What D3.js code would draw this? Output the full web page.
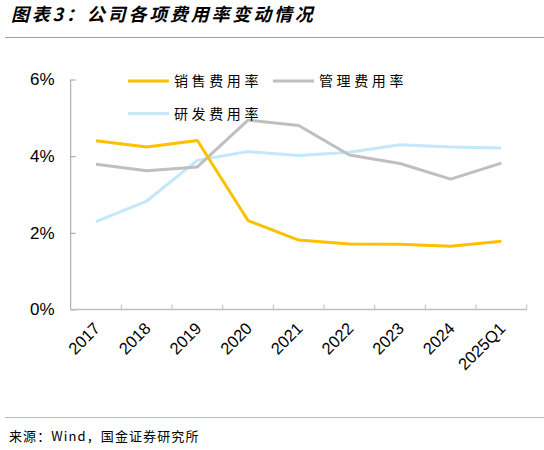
<!DOCTYPE html>
<html>
<head>
<meta charset="utf-8">
<script src="https://cdn.jsdelivr.net/npm/d3@7"></script>
<style>
  body { margin: 0; background: #fff; }
  svg { display: block; }
</style>
</head>
<body>
<svg width="544" height="450"></svg>
<script>
const years = ["2017", "2018", "2019", "2020", "2021", "2022", "2023", "2024", "2025Q1"];
const sales = [4.40, 4.24, 4.41, 2.32, 1.81, 1.71, 1.70, 1.65, 1.78];
const admin = [3.79, 3.62, 3.72, 4.94, 4.80, 4.03, 3.81, 3.40, 3.82];
const rnd = [2.29, 2.83, 3.89, 4.12, 4.02, 4.10, 4.30, 4.24, 4.21];
const yTicks = [0, 2, 4, 6];

const series = [
    { name: "销售费用率", values: sales, color: "#FFC000" },
    { name: "管理费用率", values: admin, color: "#BFBFBF" },
    { name: "研发费用率", values: rnd, color: "#C5E7FA" }
];

const cjk = "'Noto Sans CJK SC', sans-serif";
const svg = d3.select("svg");

// title + rules
svg.append("text")
    .attr("x", 11).attr("y", 21)
    .attr("font-family", cjk)
    .attr("font-size", "18px")
    .attr("font-weight", "bold")
    .attr("font-style", "italic")
    .attr("letter-spacing", "2.8px")
    .text("图表3：公司各项费用率变动情况");

svg.append("line")
    .attr("x1", 5).attr("x2", 544).attr("y1", 37.5).attr("y2", 37.5)
    .attr("stroke", "#8EA3B6").attr("stroke-width", 1.2);

svg.append("line")
    .attr("x1", 5).attr("x2", 544).attr("y1", 417.5).attr("y2", 417.5)
    .attr("stroke", "#A9C0D2").attr("stroke-width", 1.2);

svg.append("text")
    .attr("x", 9).attr("y", 441)
    .attr("font-family", cjk)
    .attr("font-size", "13px")
    .attr("letter-spacing", "1.1px")
    .text("来源：Wind，国金证券研究所");

// plot area
const plotL = 70.7, plotR = 526.7, plotT = 79.5, plotB = 309.5;

const x = d3.scaleBand().domain(years).range([plotL, plotR]);
const y = d3.scaleLinear().domain([0, 6]).range([plotB, plotT]);

// y axis
const yAxis = svg.append("g")
    .attr("transform", "translate(" + plotL + ",0)")
    .call(d3.axisLeft(y).tickValues(yTicks).tickSize(-5).tickPadding(16)
        .tickFormat(d => d + "%"));
yAxis.select(".domain").attr("stroke", "#A0A0A0").attr("d", "M0," + plotT + "V" + plotB);
yAxis.selectAll(".tick line").attr("stroke", "#A0A0A0");
yAxis.selectAll(".tick text")
    .attr("font-family", "Arial, 'Liberation Sans', sans-serif")
    .attr("font-size", "17px")
    .attr("fill", "#000");

// x axis: boundary ticks at band edges
const xAxis = svg.append("g");
xAxis.append("line")
    .attr("x1", plotL).attr("x2", plotR).attr("y1", plotB).attr("y2", plotB)
    .attr("stroke", "#BFBFBF").attr("stroke-width", 1.5);
const edges = years.map(d => x(d)).concat([plotR]);
xAxis.selectAll(".edge")
    .data(edges.slice(1))
    .enter().append("line")
    .attr("x1", d => d).attr("x2", d => d)
    .attr("y1", plotB).attr("y2", plotB - 5)
    .attr("stroke", "#BFBFBF");

xAxis.selectAll(".xl")
    .data(years)
    .enter().append("text")
    .attr("transform", d => "translate(" + (x(d) + x.bandwidth() / 2 + 1) + "," + (plotB + 16) + ") rotate(-45)")
    .attr("text-anchor", "end")
    .attr("dy", "0.35em")
    .attr("font-family", "Arial, 'Liberation Sans', sans-serif")
    .attr("font-size", "16.5px")
    .attr("fill", "#000")
    .text(d => d);

// lines
const line = d3.line()
    .x((d, i) => x(years[i]) + x.bandwidth() / 2)
    .y(d => y(d));

// draw order: blue, gray, yellow on top
[series[2], series[1], series[0]].forEach(s => {
    svg.append("path")
        .datum(s.values)
        .attr("fill", "none")
        .attr("stroke", s.color)
        .attr("stroke-width", 3)
        .attr("stroke-linejoin", "round")
        .attr("d", line);
});

// legend
const legendPos = [
    { lx: 128, ty: 81 },
    { lx: 273, ty: 81 },
    { lx: 128, ty: 113.5 }
];
series.forEach((s, i) => {
    const p = legendPos[i];
    svg.append("line")
        .attr("x1", p.lx).attr("x2", p.lx + 41)
        .attr("y1", p.ty).attr("y2", p.ty)
        .attr("stroke", s.color).attr("stroke-width", 3);
    svg.append("text")
        .attr("x", p.lx + 46).attr("y", p.ty)
        .attr("dy", "0.36em")
        .attr("font-family", cjk)
        .attr("font-size", "14px")
        .attr("letter-spacing", "3.6px")
        .attr("fill", "#000")
        .text(s.name);
});
</script>
</body>
</html>
